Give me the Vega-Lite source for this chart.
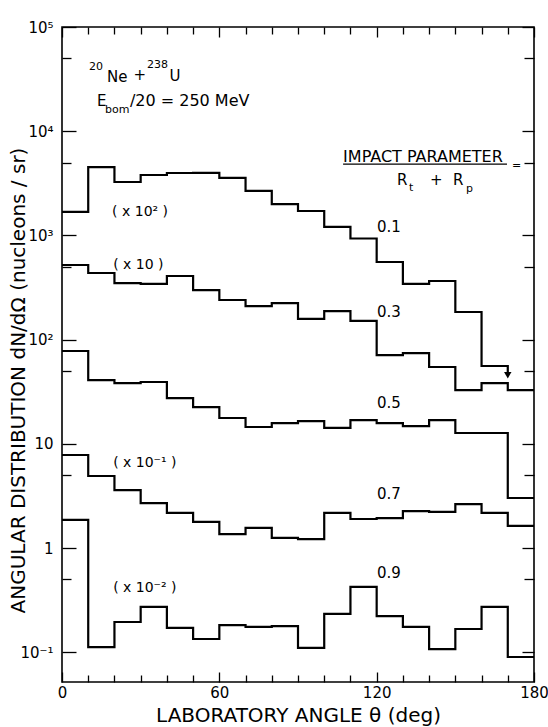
{
  "$schema": "https://vega.github.io/schema/vega-lite/v6.json",
  "width": 472,
  "height": 655,
  "autosize": {"type": "none"},
  "padding": {"left": 62, "top": 27, "right": 14, "bottom": 45},
  "background": "white",
  "config": {
    "view": {"stroke": "black", "strokeWidth": 1.6},
    "axis": {"domain": false, "grid": false, "tickColor": "black", "tickWidth": 1.3, "labelColor": "black", "titleColor": "black", "labelFont": "DejaVu Sans", "titleFont": "DejaVu Sans", "titleFontWeight": "normal", "labelFlush": false, "labelOverlap": false},
    "text": {"font": "DejaVu Sans", "color": "black"}
  },
  "datasets": {
    "hist": [
      {"s": "0.1", "i": 0, "x": 0, "y": 1680}, {"s": "0.1", "i": 1, "x": 10, "y": 4530}, {"s": "0.1", "i": 2, "x": 20, "y": 3255}, {"s": "0.1", "i": 3, "x": 30, "y": 3800}, {"s": "0.1", "i": 4, "x": 40, "y": 3970}, {"s": "0.1", "i": 5, "x": 50, "y": 3990}, {"s": "0.1", "i": 6, "x": 60, "y": 3560}, {"s": "0.1", "i": 7, "x": 70, "y": 2670}, {"s": "0.1", "i": 8, "x": 80, "y": 2000}, {"s": "0.1", "i": 9, "x": 90, "y": 1715}, {"s": "0.1", "i": 10, "x": 100, "y": 1205}, {"s": "0.1", "i": 11, "x": 110, "y": 934}, {"s": "0.1", "i": 12, "x": 120, "y": 556}, {"s": "0.1", "i": 13, "x": 130, "y": 342}, {"s": "0.1", "i": 14, "x": 140, "y": 365}, {"s": "0.1", "i": 15, "x": 150, "y": 184}, {"s": "0.1", "i": 16, "x": 160, "y": 55.8}, {"s": "0.1", "i": 17, "x": 170, "y": 55.8}, {"s": "0.1", "i": 18, "x": 170, "y": 48},
      {"s": "0.3", "i": 0, "x": 0, "y": 520}, {"s": "0.3", "i": 1, "x": 10, "y": 436}, {"s": "0.3", "i": 2, "x": 20, "y": 349}, {"s": "0.3", "i": 3, "x": 30, "y": 342}, {"s": "0.3", "i": 4, "x": 40, "y": 408}, {"s": "0.3", "i": 5, "x": 50, "y": 299}, {"s": "0.3", "i": 6, "x": 60, "y": 240}, {"s": "0.3", "i": 7, "x": 70, "y": 210}, {"s": "0.3", "i": 8, "x": 80, "y": 224}, {"s": "0.3", "i": 9, "x": 90, "y": 158}, {"s": "0.3", "i": 10, "x": 100, "y": 188}, {"s": "0.3", "i": 11, "x": 110, "y": 151}, {"s": "0.3", "i": 12, "x": 120, "y": 71.1}, {"s": "0.3", "i": 13, "x": 130, "y": 74.3}, {"s": "0.3", "i": 14, "x": 140, "y": 54.6}, {"s": "0.3", "i": 15, "x": 150, "y": 32.8}, {"s": "0.3", "i": 16, "x": 160, "y": 38.3}, {"s": "0.3", "i": 17, "x": 170, "y": 32.8}, {"s": "0.3", "i": 18, "x": 180, "y": 32.8},
      {"s": "0.5", "i": 0, "x": 0, "y": 77.8}, {"s": "0.5", "i": 1, "x": 10, "y": 40.9}, {"s": "0.5", "i": 2, "x": 20, "y": 38.3}, {"s": "0.5", "i": 3, "x": 30, "y": 39.2}, {"s": "0.5", "i": 4, "x": 40, "y": 27.5}, {"s": "0.5", "i": 5, "x": 50, "y": 22.5}, {"s": "0.5", "i": 6, "x": 60, "y": 17.7}, {"s": "0.5", "i": 7, "x": 70, "y": 14.5}, {"s": "0.5", "i": 8, "x": 80, "y": 15.8}, {"s": "0.5", "i": 9, "x": 90, "y": 16.5}, {"s": "0.5", "i": 10, "x": 100, "y": 14.2}, {"s": "0.5", "i": 11, "x": 110, "y": 16.9}, {"s": "0.5", "i": 12, "x": 120, "y": 15.8}, {"s": "0.5", "i": 13, "x": 130, "y": 14.8}, {"s": "0.5", "i": 14, "x": 140, "y": 16.9}, {"s": "0.5", "i": 15, "x": 150, "y": 12.7}, {"s": "0.5", "i": 16, "x": 160, "y": 12.7}, {"s": "0.5", "i": 17, "x": 170, "y": 3.02}, {"s": "0.5", "i": 18, "x": 180, "y": 3.02},
      {"s": "0.7", "i": 0, "x": 0, "y": 7.81}, {"s": "0.7", "i": 1, "x": 10, "y": 4.91}, {"s": "0.7", "i": 2, "x": 20, "y": 3.6}, {"s": "0.7", "i": 3, "x": 30, "y": 2.7}, {"s": "0.7", "i": 4, "x": 40, "y": 2.17}, {"s": "0.7", "i": 5, "x": 50, "y": 1.78}, {"s": "0.7", "i": 6, "x": 60, "y": 1.36}, {"s": "0.7", "i": 7, "x": 70, "y": 1.56}, {"s": "0.7", "i": 8, "x": 80, "y": 1.25}, {"s": "0.7", "i": 9, "x": 90, "y": 1.22}, {"s": "0.7", "i": 10, "x": 100, "y": 2.17}, {"s": "0.7", "i": 11, "x": 110, "y": 1.9}, {"s": "0.7", "i": 12, "x": 120, "y": 1.94}, {"s": "0.7", "i": 13, "x": 130, "y": 2.26}, {"s": "0.7", "i": 14, "x": 140, "y": 2.22}, {"s": "0.7", "i": 15, "x": 150, "y": 2.64}, {"s": "0.7", "i": 16, "x": 160, "y": 2.17}, {"s": "0.7", "i": 17, "x": 170, "y": 1.63}, {"s": "0.7", "i": 18, "x": 180, "y": 1.63},
      {"s": "0.9", "i": 0, "x": 0, "y": 1.86}, {"s": "0.9", "i": 1, "x": 10, "y": 0.112}, {"s": "0.9", "i": 2, "x": 20, "y": 0.195}, {"s": "0.9", "i": 3, "x": 30, "y": 0.272}, {"s": "0.9", "i": 4, "x": 40, "y": 0.171}, {"s": "0.9", "i": 5, "x": 50, "y": 0.134}, {"s": "0.9", "i": 6, "x": 60, "y": 0.182}, {"s": "0.9", "i": 7, "x": 70, "y": 0.175}, {"s": "0.9", "i": 8, "x": 80, "y": 0.178}, {"s": "0.9", "i": 9, "x": 90, "y": 0.11}, {"s": "0.9", "i": 10, "x": 100, "y": 0.233}, {"s": "0.9", "i": 11, "x": 110, "y": 0.423}, {"s": "0.9", "i": 12, "x": 120, "y": 0.222}, {"s": "0.9", "i": 13, "x": 130, "y": 0.175}, {"s": "0.9", "i": 14, "x": 140, "y": 0.107}, {"s": "0.9", "i": 15, "x": 150, "y": 0.167}, {"s": "0.9", "i": 16, "x": 160, "y": 0.272}, {"s": "0.9", "i": 17, "x": 170, "y": 0.09}, {"s": "0.9", "i": 18, "x": 180, "y": 0.09}
    ],
    "labels": [
      {"t": "0.1", "x": 120.1, "y": 1204}, {"t": "0.3", "x": 120.1, "y": 184}, {"t": "0.5", "x": 120.1, "y": 24.7}, {"t": "0.7", "x": 120.1, "y": 3.3}, {"t": "0.9", "x": 120.1, "y": 0.575},
      {"t": "Ne", "x": 17.2, "y": 33100}, {"t": "+", "x": 27.3, "y": 34600}, {"t": "U", "x": 41.0, "y": 33800},
      {"t": "E", "x": 13.3, "y": 19500},
      {"t": "R", "x": 127.8, "y": 3400}, {"t": "+", "x": 140.3, "y": 3400}, {"t": "R", "x": 149.1, "y": 3400}
    ],
    "energy": [{"t": "/20 = 250 MeV", "x": 25.9, "y": 19500}],
    "impact": [{"t": "IMPACT PARAMETER", "x": 107.2, "x2": 169.7, "y": 5650, "u": 4840}],
    "paren": [
      {"t": "( x 10² )", "x": 19.1, "y": 1679}, {"t": "( x 10 )", "x": 19.5, "y": 520}, {"t": "( x 10⁻¹ )", "x": 19.5, "y": 6.55}, {"t": "( x 10⁻² )", "x": 19.5, "y": 0.413}
    ],
    "small": [
      {"t": "20", "x": 10.3, "y": 41300}, {"t": "238", "x": 32.4, "y": 43200}, {"t": "bom", "x": 16.4, "y": 15960}, {"t": "t", "x": 132.3, "y": 2850}, {"t": "p", "x": 154.1, "y": 2790}, {"t": "=", "x": 171.6, "y": 4640}
    ],
    "arrow": [{"x": 170, "y": 45.5}]
  },
  "layer": [
    {
      "data": {"name": "hist"},
      "mark": {"type": "line", "interpolate": "step-after", "color": "black", "strokeWidth": 2.2, "strokeJoin": "miter"},
      "encoding": {
        "x": {"field": "x", "type": "quantitative", "scale": {"domain": [0, 180], "nice": false, "zero": false},
          "axis": {"orient": "bottom", "values": [0, 60, 120, 180], "tickSize": -10, "labelPadding": 13, "labelFontSize": 15, "title": "LABORATORY ANGLE θ (deg)", "titleFontSize": 20, "titleY": 33, "titleBaseline": "middle"}},
        "y": {"field": "y", "type": "quantitative", "scale": {"type": "log", "domain": [0.0518, 100000], "nice": false},
          "axis": {"orient": "left", "values": [0.1, 1, 10, 100, 1000, 10000, 100000], "tickSize": -14, "labelPadding": 23, "labelFontSize": 15,
            "labelExpr": "datum.value == 100000 ? '10⁵' : datum.value == 10000 ? '10⁴' : datum.value == 1000 ? '10³' : datum.value == 100 ? '10²' : datum.value == 10 ? '10' : datum.value == 1 ? '1' : '10⁻¹'",
            "title": "ANGULAR DISTRIBUTION  dN/dΩ  (nucleons / sr)", "titleFontSize": 20, "titleX": -44, "titleY": 353, "titleBaseline": "middle"}},
        "detail": {"field": "s"},
        "order": {"field": "i"}
      }
    },
    {
      "data": {"name": "arrow"},
      "mark": {"type": "point", "opacity": 0},
      "encoding": {
        "x": {"field": "x", "type": "quantitative", "axis": {"orient": "bottom", "values": [10, 20, 30, 40, 50, 70, 80, 90, 100, 110, 130, 140, 150, 160, 170], "tickSize": -7, "labels": false, "title": null}},
        "y": {"field": "y", "type": "quantitative", "axis": {"orient": "left", "values": [0.5, 5, 50, 500, 5000, 50000], "tickSize": -9, "labels": false, "title": null}}
      }
    },
    {
      "data": {"name": "arrow"},
      "mark": {"type": "point", "opacity": 0},
      "encoding": {
        "x": {"field": "x", "type": "quantitative", "axis": {"orient": "top", "values": [0, 60, 120, 180], "tickSize": -10, "labels": false, "title": null}},
        "y": {"field": "y", "type": "quantitative", "axis": {"orient": "right", "values": [0.1, 1, 10, 100, 1000, 10000, 100000], "tickSize": -12, "labels": false, "title": null}}
      }
    },
    {
      "data": {"name": "arrow"},
      "mark": {"type": "point", "opacity": 0},
      "encoding": {
        "x": {"field": "x", "type": "quantitative", "axis": {"orient": "top", "values": [10, 20, 30, 40, 50, 70, 80, 90, 100, 110, 130, 140, 150, 160, 170], "tickSize": -7, "labels": false, "title": null}},
        "y": {"field": "y", "type": "quantitative", "axis": {"orient": "right", "values": [0.5, 5, 50, 500, 5000, 50000], "tickSize": -10, "labels": false, "title": null}}
      }
    },
    {
      "data": {"name": "arrow"},
      "mark": {"type": "point", "shape": "triangle-down", "filled": true, "color": "black", "size": 55, "opacity": 1},
      "encoding": {
        "x": {"field": "x", "type": "quantitative", "axis": null},
        "y": {"field": "y", "type": "quantitative", "axis": null}
      }
    },
    {
      "data": {"name": "labels"},
      "mark": {"type": "text", "align": "left", "baseline": "middle", "fontSize": 15},
      "encoding": {
        "x": {"field": "x", "type": "quantitative", "axis": null},
        "y": {"field": "y", "type": "quantitative", "axis": null},
        "text": {"field": "t"}
      }
    },
    {
      "data": {"name": "energy"},
      "mark": {"type": "text", "align": "left", "baseline": "middle", "fontSize": 16},
      "encoding": {
        "x": {"field": "x", "type": "quantitative", "axis": null},
        "y": {"field": "y", "type": "quantitative", "axis": null},
        "text": {"field": "t"}
      }
    },
    {
      "data": {"name": "impact"},
      "mark": {"type": "text", "align": "left", "baseline": "middle", "fontSize": 16},
      "encoding": {
        "x": {"field": "x", "type": "quantitative", "axis": null},
        "y": {"field": "y", "type": "quantitative", "axis": null},
        "text": {"field": "t"}
      }
    },
    {
      "data": {"name": "impact"},
      "mark": {"type": "rule", "color": "black", "strokeWidth": 1.3},
      "encoding": {
        "x": {"field": "x", "type": "quantitative", "axis": null},
        "x2": {"field": "x2"},
        "y": {"field": "u", "type": "quantitative", "axis": null}
      }
    },
    {
      "data": {"name": "paren"},
      "mark": {"type": "text", "align": "left", "baseline": "middle", "fontSize": 14},
      "encoding": {
        "x": {"field": "x", "type": "quantitative", "axis": null},
        "y": {"field": "y", "type": "quantitative", "axis": null},
        "text": {"field": "t"}
      }
    },
    {
      "data": {"name": "small"},
      "mark": {"type": "text", "align": "left", "baseline": "middle", "fontSize": 11},
      "encoding": {
        "x": {"field": "x", "type": "quantitative", "axis": null},
        "y": {"field": "y", "type": "quantitative", "axis": null},
        "text": {"field": "t"}
      }
    }
  ],
  "resolve": {"axis": {"x": "independent", "y": "independent"}}
}
